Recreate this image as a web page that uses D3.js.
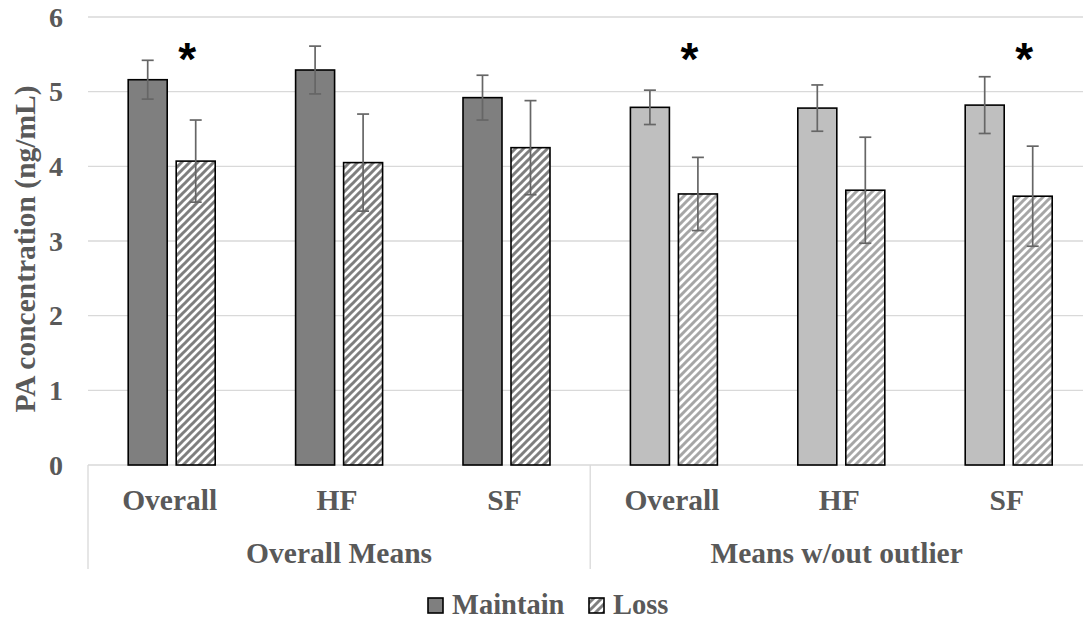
<!DOCTYPE html>
<html>
<head>
<meta charset="utf-8">
<script src="https://cdn.jsdelivr.net/npm/d3@7"></script>
<style>
  html, body { margin: 0; padding: 0; background: #fff; }
  svg { display: block; }
  text { font-family: "Liberation Serif", "Times New Roman", serif; font-weight: bold; fill: #595959; }
</style>
</head>
<body>
<svg id="chart" width="1083" height="622"></svg>
<script>
// PA concentration by weight outcome, with and without the outlier
const categories = ["Overall", "HF", "SF", "Overall", "HF", "SF"];
const groups = ["Overall Means", "Means w/out outlier"];
const groupOf = [0, 0, 0, 1, 1, 1];
const series = ["Maintain", "Loss"];
const maintain = [5.16, 5.29, 4.92, 4.79, 4.78, 4.82];
const maintainErr = [0.26, 0.32, 0.30, 0.23, 0.31, 0.38];
const loss = [4.07, 4.05, 4.25, 3.63, 3.68, 3.60];
const lossErr = [0.55, 0.65, 0.63, 0.49, 0.71, 0.67];
const yTicks = [0, 1, 2, 3, 4, 5, 6];
const significant = [0, 3, 5];   // categories marked with *
const starLevel = 5.55;

const svg = d3.select("#chart");
const W = 1083, H = 622;
const plotLeft = 88, plotTop = 17, plotBottom = 465, step = 167.4;
const plotRight = plotLeft + step * categories.length;
const labelSize = 29.5;

const maintainFill = ["#7f7f7f", "#bfbfbf"];
const hatchColor = ["#7f7f7f", "#a6a6a6"];

const x = d3.scaleBand().domain(d3.range(categories.length)).range([plotLeft, plotRight]);
const inner = d3.scaleBand().domain(series).range([0, x.bandwidth()])
  .paddingInner(0.1875).paddingOuter(0.8375);
const y = d3.scaleLinear().domain([0, 6]).range([plotBottom, plotTop]);

// diagonal hatch fills for the Loss bars
const defs = svg.append("defs");
hatchColor.forEach((c, i) => {
  const p = defs.append("pattern").attr("id", "hatch" + i)
    .attr("patternUnits", "userSpaceOnUse").attr("width", 8).attr("height", 8);
  p.append("rect").attr("width", 8).attr("height", 8).attr("fill", "#fff");
  p.append("path").attr("d", "M-2,2 L2,-2 M0,8 L8,0 M6,10 L10,6")
    .attr("stroke", c).attr("stroke-width", 3);
});

// gridlines
svg.append("g").selectAll("line").data(yTicks).join("line")
  .attr("x1", plotLeft).attr("x2", plotRight)
  .attr("y1", d => y(d)).attr("y2", d => y(d))
  .attr("stroke", "#d9d9d9").attr("stroke-width", 1.3);

// y tick labels
svg.append("g").selectAll("text").data(yTicks).join("text")
  .attr("x", 63).attr("y", d => y(d)).attr("dy", "0.34em")
  .attr("text-anchor", "end").attr("font-size", 28).text(d => d);

// y axis title
svg.append("text")
  .attr("transform", `translate(35,${(plotTop + plotBottom) / 2 + 8}) rotate(-90)`)
  .attr("text-anchor", "middle").attr("font-size", labelSize)
  .text("PA concentration (ng/mL)");

// bars
const bars = svg.append("g");
categories.forEach((c, i) => {
  const g = groupOf[i];
  bars.append("rect")
    .attr("x", x(i) + inner("Maintain")).attr("width", inner.bandwidth())
    .attr("y", y(maintain[i])).attr("height", y(0) - y(maintain[i]))
    .attr("fill", maintainFill[g]).attr("stroke", "#000").attr("stroke-width", 1.6);
  bars.append("rect")
    .attr("x", x(i) + inner("Loss")).attr("width", inner.bandwidth())
    .attr("y", y(loss[i])).attr("height", y(0) - y(loss[i]))
    .attr("fill", `url(#hatch${g})`).attr("stroke", "#000").attr("stroke-width", 1.6);
});

// error bars
const errs = svg.append("g").attr("stroke", "#666").attr("stroke-width", 1.7);
function errorBar(cx, v, e) {
  errs.append("line").attr("x1", cx).attr("x2", cx).attr("y1", y(v + e)).attr("y2", y(v - e));
  [v + e, v - e].forEach(t => errs.append("line")
    .attr("x1", cx - 6).attr("x2", cx + 6).attr("y1", y(t)).attr("y2", y(t)));
}
categories.forEach((c, i) => {
  errorBar(x(i) + inner("Maintain") + inner.bandwidth() / 2, maintain[i], maintainErr[i]);
  errorBar(x(i) + inner("Loss") + inner.bandwidth() / 2, loss[i], lossErr[i]);
});

// significance marks
svg.append("g").selectAll("text").data(significant).join("text")
  .attr("x", i => x(i) + inner("Loss") + 11).attr("y", y(starLevel)).attr("dy", "0.52em")
  .attr("text-anchor", "middle").attr("font-size", 46)
  .style("font-family", "'Liberation Sans', Arial, sans-serif").style("fill", "#000")
  .text("*");

// category axis: separators, category and group labels
const sep = svg.append("g").attr("stroke", "#d9d9d9").attr("stroke-width", 1.3);
[0, 3].forEach(i => sep.append("line")
  .attr("x1", x(i)).attr("x2", x(i)).attr("y1", plotBottom).attr("y2", 569));

svg.append("g").selectAll("text").data(categories).join("text")
  .attr("x", (d, i) => x(i) + x.bandwidth() / 2 - 2).attr("y", 510)
  .attr("text-anchor", "middle").attr("font-size", labelSize).text(d => d);

svg.append("g").selectAll("text").data(groups).join("text")
  .attr("x", (d, gi) => {
    const idx = d3.range(categories.length).filter(i => groupOf[i] === gi);
    const x0 = x(idx[0]), x1 = Math.min(x(idx[idx.length - 1]) + x.bandwidth(), W);
    return (x0 + x1) / 2;
  })
  .attr("y", 563).attr("text-anchor", "middle").attr("font-size", labelSize).text(d => d);

// legend
const legend = svg.append("g");
const legendItems = [
  { name: "Maintain", fill: maintainFill[0], x: 428 },
  { name: "Loss", fill: "url(#hatch0)", x: 589 }
];
legendItems.forEach(it => {
  legend.append("rect").attr("x", it.x).attr("y", 598).attr("width", 15).attr("height", 15)
    .attr("fill", it.fill).attr("stroke", "#000").attr("stroke-width", 1.6);
  legend.append("text").attr("x", it.x + 24).attr("y", 614).attr("font-size", 28.5).text(it.name);
});
</script>
</body>
</html>
